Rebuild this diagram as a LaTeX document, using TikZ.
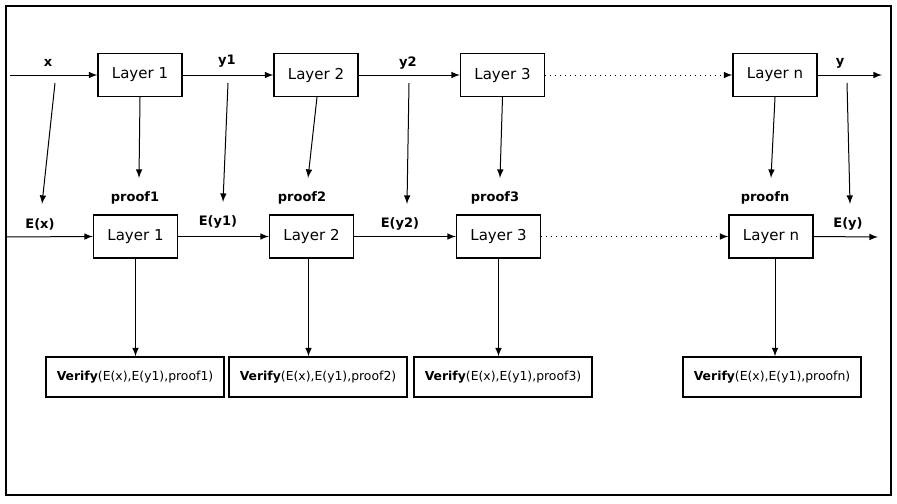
\documentclass[tikz,border=0pt]{standalone}
\usepackage{fontspec}
\setmainfont{DejaVu Sans}
\usetikzlibrary{arrows}
\usetikzlibrary{calc}

\tikzset{
  layerbox/.style={draw, line width=0.6pt, minimum width=42pt, minimum height=21.5pt,
    inner sep=0pt, font=\fontsize{7.5}{9}\selectfont},
  verifybox/.style={draw, line width=0.6pt, minimum width=89pt, minimum height=20pt,
    inner sep=0pt, font=\fontsize{6.2}{7}\selectfont},
  wirelabel/.style={inner sep=0pt, font=\bfseries\fontsize{6.5}{7}\selectfont},
  wire/.style={-latex, line width=0.5pt},
}

\newcommand{\ZKLayer}[3]{
  \node[layerbox] (#1) at #2 {#3};
}
\newcommand{\ZKVerify}[3]{
  \node[verifybox] (#1) at #2 {\textbf{Verify}(E(x),E(y1),#3)};
}
\newcommand{\ZKLabel}[3]{
  \node[wirelabel] (#1) at #2 {#3};
}

\begin{document}
\begin{tikzpicture}[x=0.5pt,y=-0.5pt]
\useasboundingbox (0,0) rectangle (897,503);
\draw[line width=1pt] (6,6) rectangle (891,495);

% plain layers
\ZKLayer{t1}{(140,75)}{Layer 1}
\ZKLayer{t2}{(316,75)}{Layer 2}
\ZKLayer{t3}{(502.5,75)}{Layer 3}
\ZKLayer{tn}{(775,75)}{Layer n}

% encrypted layers
\ZKLayer{b1}{(135.5,236.5)}{Layer 1}
\ZKLayer{b2}{(311.5,236.5)}{Layer 2}
\ZKLayer{b3}{(498.5,236.5)}{Layer 3}
\ZKLayer{bn}{(771,236.5)}{Layer n}

% checks
\ZKVerify{v1}{(135,377)}{proof1}
\ZKVerify{v2}{(318,377)}{proof2}
\ZKVerify{v3}{(503,377)}{proof3}
\ZKVerify{vn}{(772,377)}{proofn}

\ZKLabel{lx}{(48,63)}{x}
\ZKLabel{ly1}{(227,61)}{y1}
\ZKLabel{ly2}{(408,63)}{y2}
\ZKLabel{ly}{(840,63)}{y}
\ZKLabel{lex}{(40,224)}{E(x)}
\ZKLabel{ley1}{(218,222)}{E(y1)}
\ZKLabel{ley2}{(400,224)}{E(y2)}
\ZKLabel{ley}{(848,224)}{E(y)}
\ZKLabel{lp1}{(135,198)}{proof1}
\ZKLabel{lp2}{(302,198)}{proof2}
\ZKLabel{lp3}{(495,198)}{proof3}
\ZKLabel{lpn}{(765,198)}{proofn}

\coordinate (xin) at (10,75);
\coordinate (yout) at (882,75);
\coordinate (exin) at (6,237);
\coordinate (eyout) at (878,237);

% forward pass
\draw[wire] (xin) -- (t1.west);
\draw[wire] (t1.east) -- (t2.west);
\draw[wire] (t2.east) -- (t3.west);
\draw[wire, dotted] (t3.east) -- (tn.west);
\draw[wire] (tn.east) -- (yout);

\draw[wire] (exin) -- (b1.west);
\draw[wire] (b1.east) -- (b2.west);
\draw[wire] (b2.east) -- (b3.west);
\draw[wire, dotted] (b3.east) -- (bn.west);
\draw[wire] (bn.east) -- (eyout);

% proofs
\coordinate (p1) at (139,178);
\coordinate (p2) at (308,178);
\coordinate (p3) at (500,178);
\coordinate (pn) at (771,178);
\draw[wire] (t1.south) -- (p1);
\draw[wire] ($(t2.south)+(1,0)$) -- (p2);
\draw[wire] (t3.south) -- (p3);
\draw[wire] (tn.south) -- (pn);

% encryption
\coordinate (ex0) at (55,83);   \coordinate (ex1) at (42,204);
\coordinate (ey10) at (228,83); \coordinate (ey11) at (223,202);
\coordinate (ey20) at (409,83); \coordinate (ey21) at (407,204);
\coordinate (ey0) at (847,83);  \coordinate (ey1) at (850,204);
\draw[wire] (ex0) -- (ex1);
\draw[wire] (ey10) -- (ey11);
\draw[wire] (ey20) -- (ey21);
\draw[wire] (ey0) -- (ey1);

% verification
\draw[wire] (b1.south) -- (b1.south |- v1.north);
\draw[wire] ($(b2.south)+(-3,0)$) -- ($(b2.south |- v2.north)+(-3,0)$);
\draw[wire] (b3.south) -- (b3.south |- v3.north);
\draw[wire] ($(bn.south)+(4,0)$) -- ($(bn.south |- vn.north)+(4,0)$);
\end{tikzpicture}
\end{document}
